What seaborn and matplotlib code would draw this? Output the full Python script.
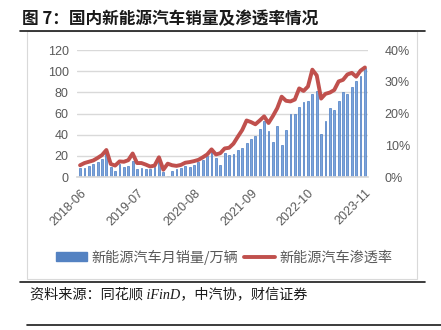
import numpy as np
import pandas as pd
import matplotlib
matplotlib.use("Agg")
import matplotlib.pyplot as plt
import seaborn as sns
from matplotlib.lines import Line2D
from matplotlib.patches import Patch, Rectangle
from matplotlib.ticker import PercentFormatter

# Monthly new-energy vehicle sales (10k units) and market penetration, 2018-06 .. 2023-11
months = pd.period_range("2018-06", "2023-11", freq="M").strftime("%Y-%m").tolist()
sales = [
    8.4, 8.4, 10.1, 12.1, 13.8, 17.3, 22.5,
    9.6, 5.3, 12.6, 9.7, 10.4, 15.2, 8.0, 8.5, 8.0, 7.5, 9.5, 16.3,
    4.4, 1.3, 5.3, 7.2, 8.2, 10.4, 9.8, 10.9, 13.8, 16.0, 20.0, 24.8,
    17.9, 11.0, 22.6, 20.6, 21.7, 25.6, 27.1, 32.1, 35.7, 38.3, 45.0, 53.1,
    43.1, 33.4, 48.4, 29.9, 44.7, 59.6, 59.3, 66.6, 70.8, 71.4, 78.6, 81.4,
    40.8, 52.5, 65.3, 63.6, 71.7, 80.6, 78.0, 84.6, 90.4, 95.6, 102.6,
]
penetration = [
    3.7, 4.4, 4.8, 5.2, 6.0, 6.9, 8.5,
    4.1, 3.6, 4.9, 4.8, 5.3, 7.4, 4.4, 4.4, 3.9, 3.3, 3.6, 6.2,
    2.3, 4.2, 3.7, 3.5, 3.8, 4.5, 4.7, 5.0, 5.4, 6.2, 7.1, 8.7,
    7.1, 7.5, 9.0, 9.2, 10.5, 12.7, 14.8, 17.8, 17.3, 16.6, 17.8, 19.1,
    17.0, 19.2, 21.7, 25.3, 24.0, 23.8, 24.4, 27.9, 27.1, 28.5, 33.8, 32.0,
    24.7, 26.2, 26.6, 27.4, 30.1, 30.6, 32.3, 32.8, 31.6, 33.5, 34.5,
]
tick_months = months[::13]

bar_label = "新能源汽车月销量/万辆"
line_label = "新能源汽车渗透率"
title = "图 7：国内新能源汽车销量及渗透率情况"
source = "资料来源：同花顺 iFinD，中汽协，财信证券"

df = pd.DataFrame({"month": months, "sales": sales,
                   "rate": np.array(penetration) / 100.0})
df["pos"] = np.arange(len(df))

sns.set_theme(style="white")
plt.rcParams["font.family"] = ["Liberation Sans", "Noto Sans CJK SC", "DejaVu Sans"]

W, H = 441, 330
fig = plt.figure(figsize=(W / 100, H / 100), dpi=100)
fig.patch.set_facecolor("white")

ax = fig.add_axes([77 / W, 1 - 177 / H, (368 - 77) / W, (177 - 50) / H])

bar_face = "#7CA4DA"
bar_edge = "#4A7CC3"
line_col = "#C0504D"
grey = "#595959"

sns.barplot(data=df, x="month", y="sales", ax=ax, color=bar_face,
            saturation=1, width=0.42, edgecolor=bar_edge, linewidth=0.5)
ax.set_ylim(0, 120)
ax.set_yticks(range(0, 121, 20))
ax.set_xlim(-0.7, len(df) - 0.3)
ax.yaxis.grid(True, color="#D9D9D9", lw=1)
ax.set_axisbelow(True)
ax.set_xlabel("")
ax.set_ylabel("")
for s in ["top", "right", "left"]:
    ax.spines[s].set_visible(False)
ax.spines["bottom"].set_color("#D9D9D9")
ax.tick_params(axis="y", length=0, labelsize=9, labelcolor=grey, pad=6)
ax.set_xticks([months.index(m) for m in tick_months])
ax.set_xticklabels(tick_months, rotation=45, ha="right", rotation_mode="anchor",
                   fontsize=9, color=grey)
ax.tick_params(axis="x", length=0, pad=7)

ax2 = ax.twinx()
sns.lineplot(data=df, x="pos", y="rate", ax=ax2, color=line_col, lw=2.8,
             legend=False)
ax2.set_ylim(0, 0.4)
ax2.set_yticks(np.arange(0, 0.41, 0.1))
ax2.yaxis.set_major_formatter(PercentFormatter(1.0, decimals=0))
ax2.set_xlim(ax.get_xlim())
ax2.set_xlabel("")
ax2.set_ylabel("")
for s in ax2.spines.values():
    s.set_visible(False)
ax2.tick_params(axis="y", length=0, labelsize=9, labelcolor=grey, pad=12)

handles = [Patch(facecolor="#5482C2", edgecolor="#5482C2"),
           Line2D([], [], color=line_col, lw=2.8)]
fig.legend(handles, [bar_label, line_label], loc="center",
           bbox_to_anchor=(0.508, 1 - 257 / H), ncol=2, frameon=False,
           prop={"family": ["Noto Sans CJK SC"], "size": 10.2},
           labelcolor=grey, handlelength=2.2, handleheight=0.55,
           handletextpad=0.3, columnspacing=0.4)

# Frame and rules around the chart block
fig.add_artist(Rectangle((27 / W, 1 - 279 / H), (417 - 27) / W, (279 - 31) / H,
                         transform=fig.transFigure, fill=False,
                         edgecolor="#D9D9D9", lw=0.8))
for y, x0, x1 in [(31, 20, 425), (282, 20, 425), (325, 27, 441)]:
    fig.add_artist(Line2D([x0 / W, x1 / W], [1 - y / H, 1 - y / H],
                          transform=fig.transFigure, color="#1A1A1A", lw=1.2))

fig.text(22 / W, 1 - 19 / H, title, ha="left", va="center", fontsize=12,
         fontweight="bold", family=["Noto Sans CJK SC"], color="#1A1A1A")
fig.text(30 / W, 1 - 295 / H, source, ha="left", va="center", fontsize=10.2,
         style="italic", family=["Liberation Serif", "Noto Sans CJK SC"],
         color="#1A1A1A")

fig.savefig("out.png", dpi=100, facecolor="white")
